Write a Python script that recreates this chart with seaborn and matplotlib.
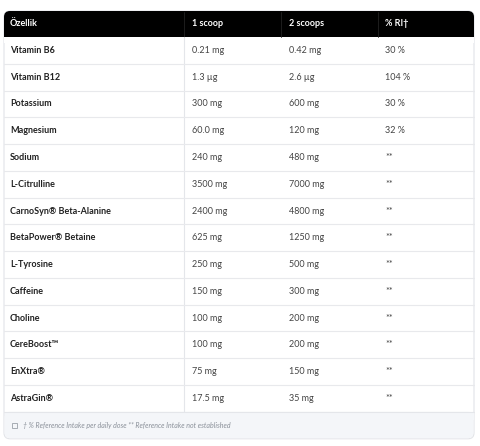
import matplotlib
matplotlib.use("Agg")
import matplotlib.pyplot as plt
import seaborn as sns
from matplotlib.patches import FancyBboxPatch, Rectangle

sns.set_theme(style="white")
plt.rcParams['font.family'] = ['Lato', 'DejaVu Sans']

headers = ["Özellik", "1 scoop", "2 scoops", "% RI†"]
ingredients = ["Vitamin B6", "Vitamin B12", "Potassium", "Magnesium", "Sodium", "L-Citrulline",
               "CarnoSyn® Beta-Alanine", "BetaPower® Betaine", "L-Tyrosine", "Caffeine",
               "Choline", "CereBoost™", "EnXtra®", "AstraGin®"]
one_scoop = ["0.21 mg", "1.3 µg", "300 mg", "60.0 mg", "240 mg", "3500 mg", "2400 mg", "625 mg",
             "250 mg", "150 mg", "100 mg", "100 mg", "75 mg", "17.5 mg"]
two_scoops = ["0.42 mg", "2.6 µg", "600 mg", "120 mg", "480 mg", "7000 mg", "4800 mg", "1250 mg",
              "500 mg", "300 mg", "200 mg", "200 mg", "150 mg", "35 mg"]
ri = ["30 %", "104 %", "30 %", "32 %", "**", "**", "**", "**", "**", "**", "**", "**", "**", "**"]
footnote = "† % Reference Intake per daily dose ** Reference Intake not established"

fig = plt.figure(figsize=(4.8, 4.46), dpi=100)
ax = fig.add_axes([0, 0, 1, 1])
ax.set_xlim(0, 480)
ax.set_ylim(446, 0)
ax.axis("off")

L, R, T = 4, 474, 11
hh = 26
rh = 26.77
n = len(ingredients)
body_top = T + hh
body_bot = body_top + n * rh
foot_bot = body_bot + 27

# outer card
ax.add_patch(FancyBboxPatch((L, T), R - L, foot_bot - T, boxstyle="round,pad=0,rounding_size=6",
                            fc="white", ec="#e2e4e8", lw=0.8, zorder=1))
# header
ax.add_patch(FancyBboxPatch((L, T), R - L, hh + 6, boxstyle="round,pad=0,rounding_size=6",
                            fc="black", ec="none", zorder=2))
ax.add_patch(Rectangle((L, T + hh - 1), R - L, 1.2, fc="black", ec="none", zorder=2))
ax.add_patch(Rectangle((L, body_top), R - L, 6, fc="white", ec="none", zorder=2.5))
# footer
ax.add_patch(FancyBboxPatch((L + 0.5, body_bot), R - L - 1, foot_bot - body_bot - 0.5,
                            boxstyle="round,pad=0,rounding_size=6", fc="#f4f6f9", ec="none", zorder=2))
ax.add_patch(Rectangle((L + 0.5, body_bot), R - L - 1, 8, fc="#f4f6f9", ec="none", zorder=2))

colx = [10, 192, 289, 385]
seps = [184, 281, 378]
for s in seps:
    ax.plot([s, s], [T + 1, body_top], color="#222222", lw=0.6, zorder=3)
ax.plot([184, 184], [body_top, body_bot], color="#e4e6ea", lw=0.8, zorder=3)

for j, h in enumerate(headers):
    ax.text(colx[j], T + hh / 2, h, color="white", fontsize=6.5, fontweight="bold",
            va="center", ha="left", zorder=4)

for i in range(n):
    yc = body_top + (i + 0.5) * rh
    if i > 0:
        ax.plot([L, R], [body_top + i * rh] * 2, color="#e8e9ec", lw=0.8, zorder=3)
    ax.text(colx[0], yc, ingredients[i], color="#222222", fontsize=6.5, fontweight="bold",
            va="center", zorder=4)
    ax.text(colx[1], yc, one_scoop[i], color="#444444", fontsize=6.5, va="center", zorder=4)
    ax.text(colx[2], yc, two_scoops[i], color="#444444", fontsize=6.5, va="center", zorder=4)
    ax.text(colx[3], yc, ri[i], color="#444444", fontsize=6.5, va="center", zorder=4)
ax.plot([L, R], [body_bot, body_bot], color="#e4e6ea", lw=0.8, zorder=3)

fy = (body_bot + foot_bot) / 2
ax.add_patch(Rectangle((12, fy - 2.5), 5, 5, fc="none", ec="#9aa0a8", lw=0.6, zorder=4))
ax.text(23, fy, footnote, color="#8a9099", fontsize=5, style="italic", va="center", zorder=4)

fig.savefig("out.png", dpi=100, facecolor="white")
